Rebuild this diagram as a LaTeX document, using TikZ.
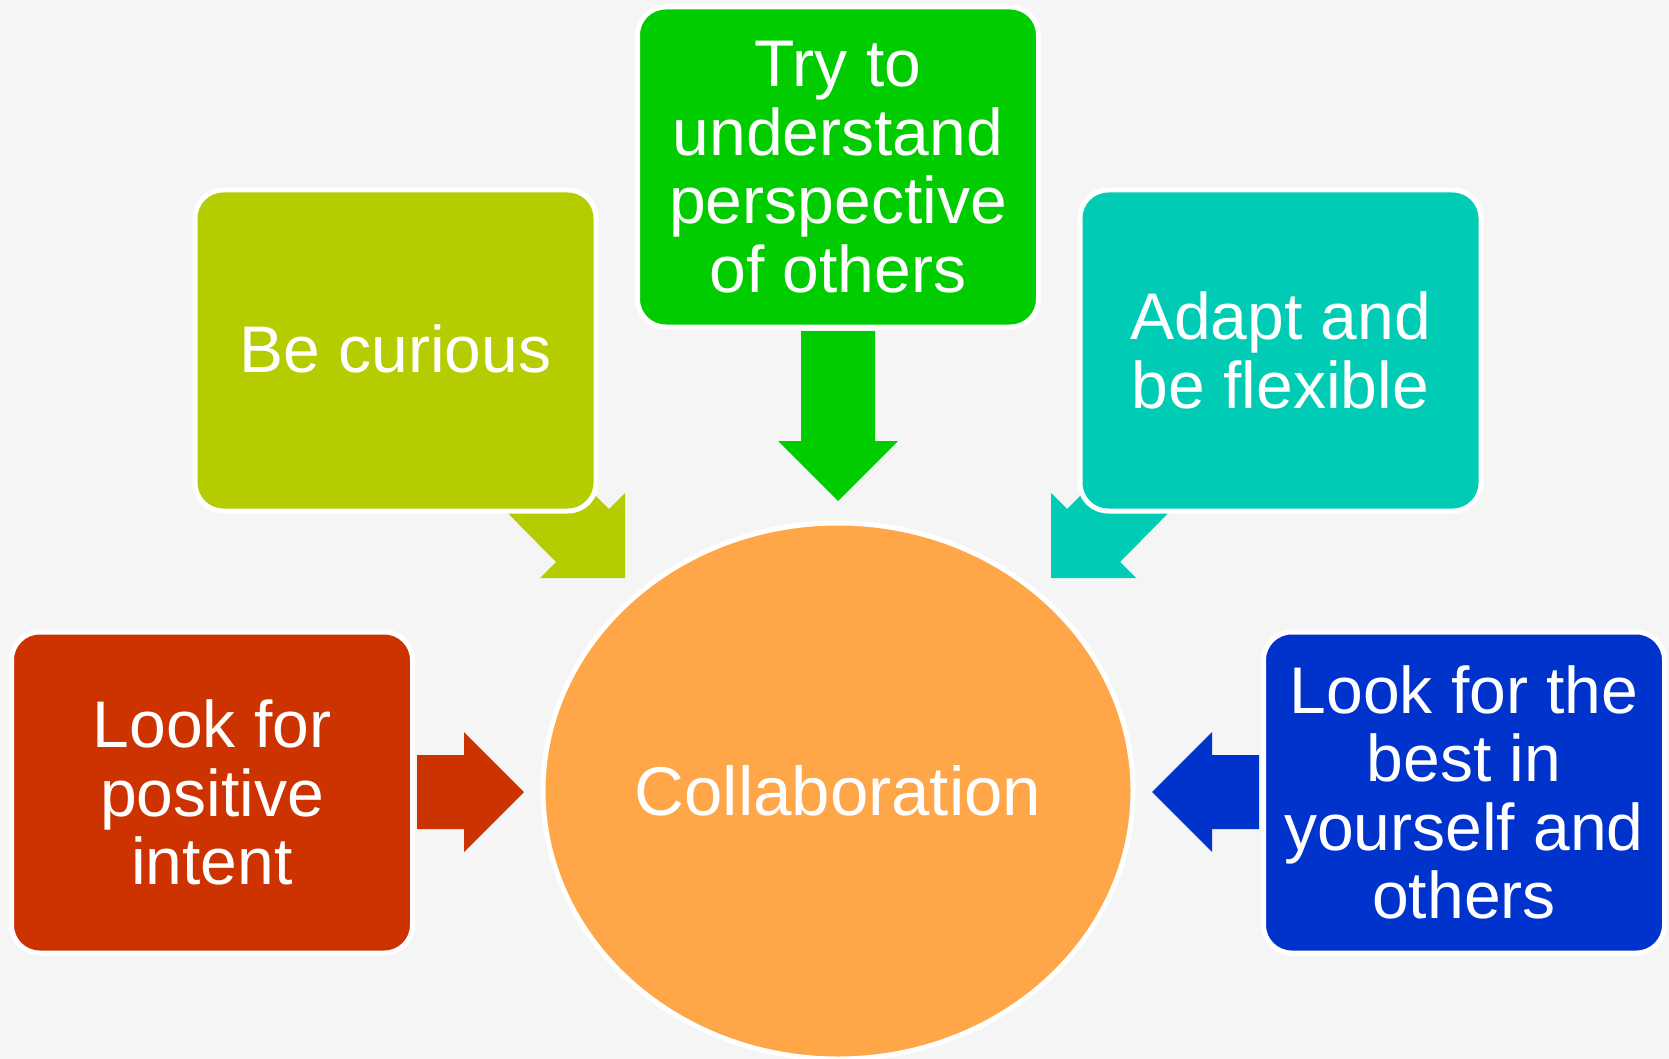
\documentclass[tikz,border=0pt]{standalone}
\usepackage{fontspec}
\setmainfont{Liberation Sans}
\usetikzlibrary{shapes.geometric}
\definecolor{bgc}{RGB}{245,245,245}
\definecolor{cyg}{RGB}{181,204,0}
\definecolor{cgr}{RGB}{0,204,0}
\definecolor{ctl}{RGB}{0,204,181}
\definecolor{crd}{RGB}{204,51,0}
\definecolor{cbl}{RGB}{0,51,204}
\definecolor{cor}{RGB}{255,166,72}
\begin{document}
\begin{tikzpicture}[x=1pt,y=-1pt,
  txt/.style={text=white, align=center, font=\fontsize{66}{68.5}\selectfont},
  box/.style={txt, rectangle, rounded corners=28pt, draw=white, line width=5pt,
    minimum width=401pt, minimum height=321pt, inner sep=0pt}]
\fill[bgc] (0,0) rectangle (1669,1059);
\useasboundingbox (0,0) rectangle (1669,1059);

% block arrows (drawn beneath the boxes)
\fill[cgr] (801,331)--(875,331)--(875,441)--(898,441)--(838,501)--(778,441)--(801,441)--cycle;
\fill[crd] (417,755)--(464,755)--(464,732)--(524,792)--(464,852)--(464,829)--(417,829)--cycle;
\fill[cbl] (1259,755)--(1212,755)--(1212,732)--(1152,792)--(1212,852)--(1212,829)--(1259,829)--cycle;
\fill[cyg] (531,432)--(609,509)--(625,493)--(625,578)--(540,578)--(556,562)--(479,484)--cycle;
\fill[ctl] (1145,432)--(1067,509)--(1051,493)--(1051,578)--(1136,578)--(1120,562)--(1197,484)--cycle;

% boxes
\node[box, fill=cyg] (curious) at (395.5,350.5) {\raisebox{3pt}{Be curious}};
\node[box, fill=cgr, minimum height=320pt] (persp) at (838,167) {Try to\\understand\\perspective\\of others};
\node[box, fill=ctl] (adapt) at (1280.5,350.5) {Adapt and\\be flexible};
\node[box, fill=crd] (intent) at (212,792.5) {Look for\\positive\\intent};
\node[box, fill=cbl] (best) at (1464,792.5) {Look for the\\best in\\yourself and\\others};

% centre
\node[txt, font=\fontsize{69}{72}\selectfont, ellipse, fill=cor, draw=white, line width=5pt, inner sep=0pt,
  minimum width=590pt, minimum height=536pt] (collab) at (838,791) {Collaboration};
\end{tikzpicture}
\end{document}
